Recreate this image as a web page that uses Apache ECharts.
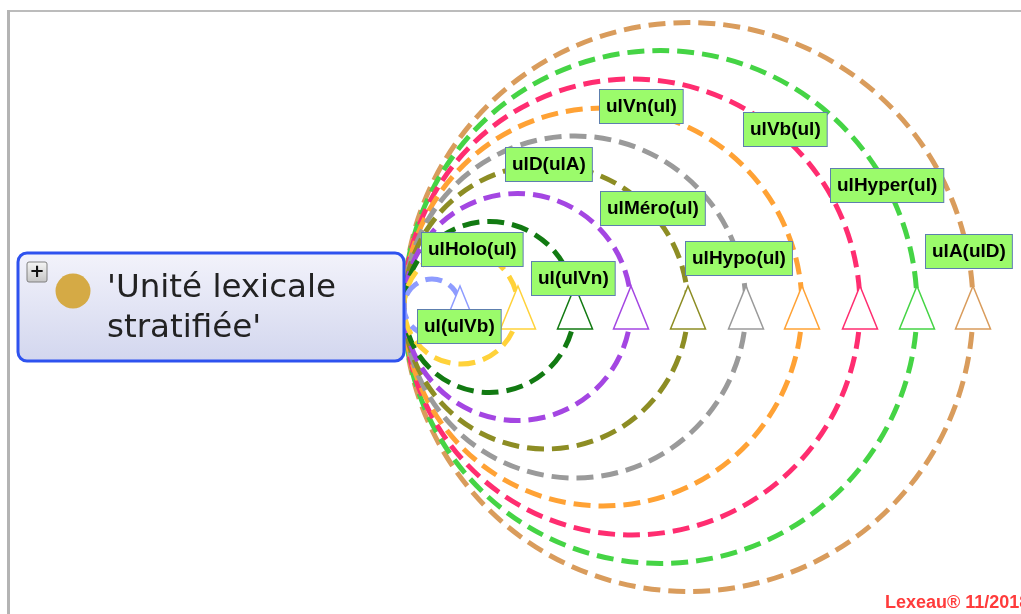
<!DOCTYPE html>
<html>
<head>
<meta charset="utf-8">
<script src="https://cdn.jsdelivr.net/npm/echarts@6/dist/echarts.min.js"></script>
<style>
html,body{margin:0;padding:0;background:#fff;}
#chart{width:1021px;height:614px;}
</style>
</head>
<body>
<div id="chart"></div>
<script>
// ---- data (diagram coordinate space: x 0..1021, y 0..614) ----
const rootPoint = [404, 307];                 // shared left end of every arc
const arcEnds = [460, 518, 575, 631, 688, 746, 802, 860, 917, 973]; // right end (triangle) of each arc
const arcColors = ['#8e9cff', '#ffd23a', '#127a12', '#a446e2', '#8d8d24', '#9a9a9a', '#ffa235', '#ff2d70', '#45d445', '#d99c5c'];
const labelNames = ['ulVn(ul)', 'ulVb(ul)', 'ulD(ulA)', 'ulMéro(ul)', 'ulHyper(ul)', 'ulHolo(ul)', 'ul(ulVn)', 'ulHypo(ul)', 'ulA(ulD)', 'ul(ulVb)'];
const labelX = [600, 744, 506, 601, 831, 422, 532, 686, 926, 418];
const labelY = [90, 113, 148, 192, 169, 233, 262, 242, 235, 310];
const nodeTitle = ["'Unité lexicale", "stratifiée'"];
const footer = 'Lexeau® 11/2018';

const chart = echarts.init(document.getElementById('chart'), null, {renderer: 'canvas'});

const arcData = arcEnds.map(function (x) { return [x, rootPoint[1]]; }).reverse();
const arcColorsRev = arcColors.slice().reverse();

const option = {
  animation: false,
  backgroundColor: '#ffffff',
  grid: {left: 0, right: 0, top: 0, bottom: 0},
  xAxis: {type: 'value', min: 0, max: 1021, show: false},
  yAxis: {type: 'value', min: 0, max: 614, inverse: true, show: false},
  graphic: [
    // frame
    {type: 'line', shape: {x1: 8, y1: 11, x2: 1021, y2: 11}, style: {stroke: '#bcbcbc', lineWidth: 2}, z: 1},
    {type: 'line', shape: {x1: 8.5, y1: 10, x2: 8.5, y2: 614}, style: {stroke: '#b4b4b4', lineWidth: 3}, z: 1},
    // node box
    {type: 'rect', shape: {x: 18, y: 253, width: 386, height: 108, r: 9},
     style: {fill: new echarts.graphic.LinearGradient(0, 0, 0, 1, [{offset: 0, color: '#f3f3fb'}, {offset: 1, color: '#d2d6ee'}]),
             stroke: '#2e52ef', lineWidth: 3}, z: 5},
    {type: 'rect', shape: {x: 27, y: 262, width: 20, height: 20, r: 2},
     style: {fill: new echarts.graphic.LinearGradient(0, 0, 0, 1, [{offset: 0, color: '#f6f6f6'}, {offset: 1, color: '#c4c4c4'}]),
             stroke: '#808080', lineWidth: 1}, z: 6},
    {type: 'text', x: 37, y: 272, style: {text: '+', font: 'bold 18px "DejaVu Sans"', fill: '#111', align: 'center', verticalAlign: 'middle'}, z: 7},
    {type: 'circle', shape: {cx: 73, cy: 291, r: 17.5}, style: {fill: '#d5aa45'}, z: 6},
    {type: 'text', x: 107, y: 272, style: {text: nodeTitle[0], font: '32.5px "DejaVu Sans"', fill: '#222', align: 'left', verticalAlign: 'top'}, z: 6},
    {type: 'text', x: 107, y: 312, style: {text: nodeTitle[1], font: '32.5px "DejaVu Sans"', fill: '#222', align: 'left', verticalAlign: 'top'}, z: 6},
    // footer
    {type: 'text', x: 885, y: 594, style: {text: footer, font: 'bold 18px "Liberation Sans"', fill: '#ff3b3b', align: 'left', verticalAlign: 'top'}, z: 6}
  ],
  series: [
    {
      type: 'custom', name: 'arcs', z: 2,
      data: arcData,
      renderItem: function (params, api) {
        const left = api.coord(rootPoint);
        const right = api.coord([api.value(0), api.value(1)]);
        const r = (right[0] - left[0]) / 2;
        return {type: 'circle', shape: {cx: left[0] + r, cy: left[1], r: r},
                style: {fill: 'none', stroke: arcColorsRev[params.dataIndex], lineWidth: 5, lineDash: [17, 8]}};
      }
    },
    {
      type: 'custom', name: 'triangles', z: 3,
      data: arcEnds.map(function (x) { return [x, rootPoint[1]]; }),
      renderItem: function (params, api) {
        const p = api.coord([api.value(0), api.value(1)]);
        return {type: 'polygon', shape: {points: [[p[0], p[1] - 21], [p[0] + 17.5, p[1] + 22], [p[0] - 17.5, p[1] + 22]]},
                style: {fill: '#ffffff', stroke: arcColors[params.dataIndex], lineWidth: 1.5}};
      }
    },
    {
      type: 'custom', name: 'labels', z: 4,
      data: labelNames.map(function (n, i) { return [labelX[i], labelY[i]]; }),
      renderItem: function (params, api) {
        const p = api.coord([api.value(0), api.value(1)]);
        return {type: 'text', x: p[0], y: p[1],
                style: {text: labelNames[params.dataIndex], font: 'bold 19px "Liberation Sans"', fill: '#000',
                        backgroundColor: '#9bfb6b', borderColor: '#5d7fae', borderWidth: 1,
                        padding: [7, 6, 7, 6], align: 'left', verticalAlign: 'top'}};
      }
    }
  ]
};
chart.setOption(option);
</script>
</body>
</html>
